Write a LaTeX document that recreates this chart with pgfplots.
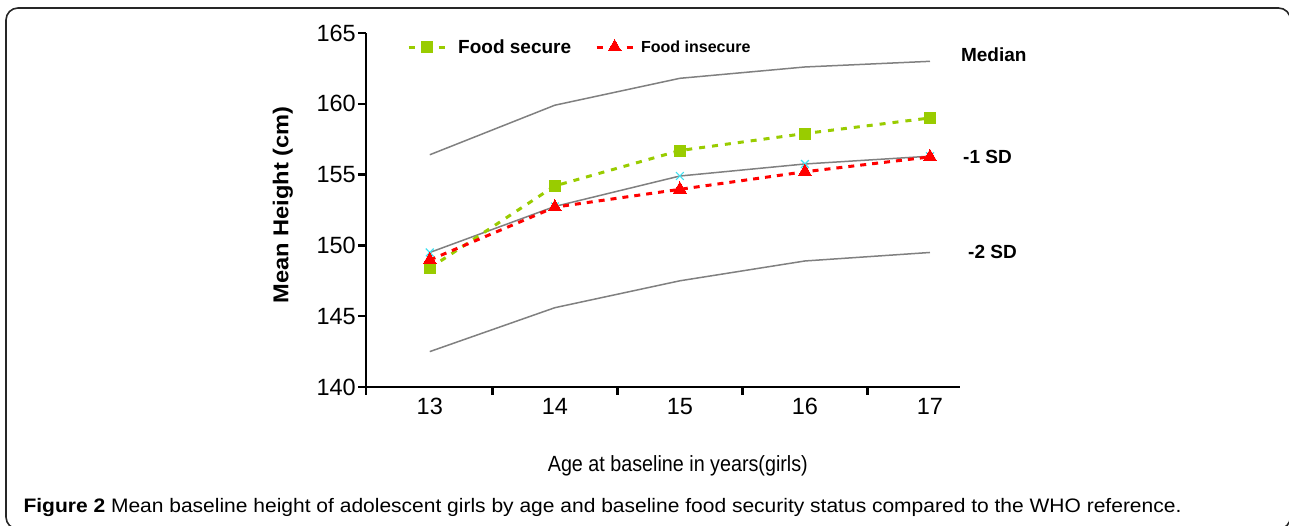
\documentclass[border=0pt]{standalone}
\usepackage{pgfplots}
\pgfplotsset{compat=1.18}
\usepackage{fontspec}
\setmainfont{Liberation Sans}
\usepackage{graphicx}
\definecolor{fsgreen}{RGB}{153,204,0}
\definecolor{refgray}{RGB}{128,128,128}
\definecolor{sdcyan}{RGB}{64,224,240}
\begin{document}
\begin{tikzpicture}[x=1pt,y=1pt]
\useasboundingbox (0,0) rectangle (1289,526);
\draw[line width=1.6pt, rounded corners=12pt, black!85] (6,-3) rectangle (1290.5,518);
\begin{axis}[
  at={(366pt,139pt)}, anchor=south west,
  scale only axis, width=594pt, height=354pt,
  xmin=12.49, xmax=17.24, ymin=140, ymax=165,
  clip=false,
  axis x line*=bottom, axis y line*=left,
  axis line style={line width=2.4pt, black},
  xtick={12.49,13.5,14.5,15.5,16.5}, xticklabels={},
  extra x ticks={13,14,15,16,17},
  extra x tick labels={13,14,15,16,17},
  extra x tick style={major tick length=0pt, xticklabel style={yshift=-8pt}},
  ytick={140,145,150,155,160,165},
  tick align=outside, major tick length=8pt,
  every tick/.style={line width=2.4pt, black},
  /pgf/number format/assume math mode=true,
  ticklabel style={font=\fontsize{23.5}{23.5}\selectfont},
  yticklabel style={inner sep=2pt},
  xlabel={\resizebox{260pt}{\height}{\fontsize{22}{22}\selectfont Age at baseline in years(girls)}},
  xlabel style={at={(axis description cs:0.525,-0.223)}, anchor=center},
  ylabel={\resizebox{197pt}{\height}{\bfseries\fontsize{21.5}{21.5}\selectfont Mean Height (cm)}},
  ylabel style={at={(axis description cs:-0.14,0.514)}, anchor=center},
  legend columns=2,
  legend style={at={(0.069,0.96)}, anchor=west, draw=none, fill=none, inner sep=0pt,
    /tikz/every even column/.append style={column sep=24pt},
    nodes={inner sep=0pt, anchor=west}},
  legend image code/.code={%
    \draw[#1] (0pt,0pt) -- (6pt,0pt);
    \draw[#1] (30pt,0pt) -- (36pt,0pt);
    \draw[#1, only marks] plot coordinates {(18pt,0pt)};},
]
% WHO reference curves
\addplot[refgray, line width=1.5pt, forget plot] coordinates {(13,156.4) (14,159.9) (15,161.8) (16,162.6) (17,163.0)};
\addplot[refgray, line width=1.5pt, forget plot] coordinates {(13,142.5) (14,145.6) (15,147.5) (16,148.9) (17,149.5)};
\addplot[refgray, line width=1.5pt, mark=x, mark size=5.5pt, mark options={sdcyan, line width=1.2pt}, forget plot] coordinates {(13,149.5) (14,152.75) (15,154.9) (16,155.75) (17,156.3)};
% Food secure
\addplot[fsgreen, line width=3pt, dash pattern=on 6pt off 7pt, mark=square*, mark size=5.5pt, mark options={solid, fsgreen, line width=0pt}] coordinates {(13,148.4) (14,154.2) (15,156.7) (16,157.9) (17,159.0)};
\addlegendentry{\hspace{12pt}\fontsize{19}{19}\selectfont\bfseries Food secure}
% Food insecure
\addplot[red, line width=3pt, dash pattern=on 6pt off 6pt, mark=triangle*, mark size=7.5pt, mark options={solid, red, line width=0pt}] coordinates {(13,148.97) (14,152.7) (15,153.96) (16,155.2) (17,156.25)};
\addlegendentry{\hspace{7pt}\fontsize{16}{16}\selectfont\bfseries Food insecure}
% Labels
\node[font=\fontsize{19}{19}\selectfont\bfseries] at (axis cs:17.51,163.45) {Median};
\node[font=\fontsize{19}{19}\selectfont\bfseries] at (axis cs:17.46,156.24) {-1 SD};
\node[font=\fontsize{19}{19}\selectfont\bfseries] at (axis cs:17.5,149.53) {-2 SD};
\end{axis}
\node[anchor=base west] at (20,13) {\resizebox{1158pt}{\height}{\fontsize{19.5}{19.5}\selectfont\textbf{Figure 2} Mean baseline height of adolescent girls by age and baseline food security status compared to the WHO reference.}};
\end{tikzpicture}
\end{document}
